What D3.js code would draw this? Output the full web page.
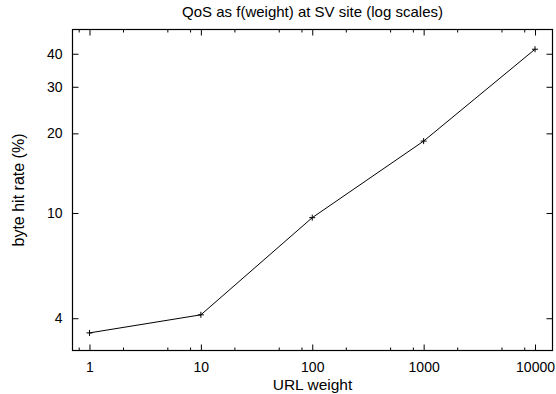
<!DOCTYPE html>
<html>
<head>
<meta charset="utf-8">
<script src="https://cdn.jsdelivr.net/npm/d3@7"></script>
<style>
  html, body { margin: 0; padding: 0; background: #fff; }
  svg { display: block; }
  text { font-family: "Liberation Sans", Arial, Helvetica, sans-serif; fill: #000; }
</style>
</head>
<body>
<svg id="chart" width="556" height="394"></svg>
<script>
const weights = [1, 10, 100, 1000, 10000];
const hitRate = [3.52, 4.12, 9.6, 18.7, 41.6];
const xTickValues = [1, 10, 100, 1000, 10000];
const xMinorTicks = [0.8, 2, 5, 8, 20, 50, 80, 200, 500, 800, 2000, 5000, 8000];
const yTickValues = [4, 10, 20, 30, 40];
const titleText = "QoS as f(weight) at SV site (log scales)";
const xLabel = "URL weight";
const yLabel = "byte hit rate (%)";

const W = 556, H = 394;
const m = { left: 72.5, right: 552.5, top: 29.5, bottom: 350.5 };
const svg = d3.select("#chart");

const x = d3.scaleLog().domain([0.704, 14350]).range([m.left, m.right]);
const y = d3.scaleLog().domain([3.02, 49.4]).range([m.bottom, m.top]);

const tickFont = 14;

// bottom axis major
svg.append("g").attr("transform", `translate(0,${m.bottom})`)
  .call(d3.axisBottom(x).tickValues(xTickValues).tickSize(-6).tickPadding(12).tickFormat(d3.format("d")));
svg.append("g").attr("transform", `translate(0,${m.bottom})`)
  .call(d3.axisBottom(x).tickValues(xMinorTicks).tickSize(-3).tickFormat(""));
// top axis mirror
svg.append("g").attr("transform", `translate(0,${m.top})`)
  .call(d3.axisTop(x).tickValues(xTickValues).tickSize(-6).tickFormat(""));
svg.append("g").attr("transform", `translate(0,${m.top})`)
  .call(d3.axisTop(x).tickValues(xMinorTicks).tickSize(-3).tickFormat(""));
// left axis
svg.append("g").attr("transform", `translate(${m.left},0)`)
  .call(d3.axisLeft(y).tickValues(yTickValues).tickSize(-6).tickPadding(10).tickFormat(d3.format("d")));
// right mirror
svg.append("g").attr("transform", `translate(${m.right},0)`)
  .call(d3.axisRight(y).tickValues(yTickValues).tickSize(-6).tickFormat(""));

svg.selectAll(".domain").remove();
svg.selectAll(".tick line").attr("stroke", "#000").attr("stroke-width", 1);
svg.selectAll(".tick text").attr("font-size", tickFont).attr("font-family", "Liberation Sans, Arial, sans-serif").attr("fill", "#000");

// frame
svg.append("rect")
  .attr("x", m.left).attr("y", m.top)
  .attr("width", m.right - m.left).attr("height", m.bottom - m.top)
  .attr("fill", "none").attr("stroke", "#000").attr("stroke-width", 1.2);

// line
const pts = weights.map((w, i) => [w, hitRate[i]]);
svg.append("path")
  .datum(pts)
  .attr("fill", "none").attr("stroke", "#000").attr("stroke-width", 1)
  .attr("d", d3.line().x(d => x(d[0])).y(d => y(d[1])));

// markers
const mk = svg.append("g");
pts.forEach(d => {
  const cx = x(d[0]), cy = y(d[1]);
  mk.append("path")
    .attr("d", `M${cx - 3},${cy}H${cx + 3}M${cx},${cy - 3}V${cy + 3}`)
    .attr("stroke", "#000").attr("stroke-width", 1);
});

// title
svg.append("text")
  .attr("x", (m.left + m.right) / 2).attr("y", 17)
  .attr("text-anchor", "middle").attr("font-size", 15)
  .text(titleText);

// x label
svg.append("text")
  .attr("x", (m.left + m.right) / 2).attr("y", 389.5)
  .attr("text-anchor", "middle").attr("font-size", 15.5)
  .text(xLabel);

// y label
svg.append("text")
  .attr("transform", `translate(24,${(m.top + m.bottom) / 2}) rotate(-90)`)
  .attr("text-anchor", "middle").attr("font-size", 16)
  .text(yLabel);
</script>
</body>
</html>
